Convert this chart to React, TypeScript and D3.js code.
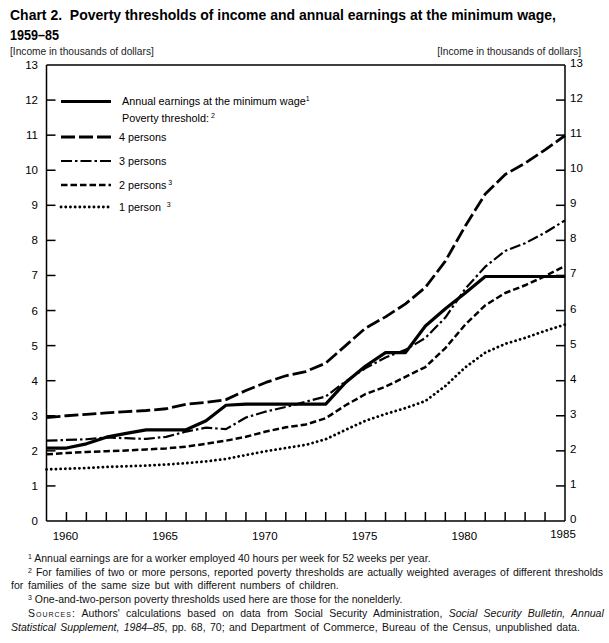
import React from "react";
import * as d3 from "d3";

const years = [1959, 1960, 1961, 1962, 1963, 1964, 1965, 1966, 1967, 1968, 1969, 1970, 1971, 1972, 1973, 1974, 1975, 1976, 1977, 1978, 1979, 1980, 1981, 1982, 1983, 1984, 1985];
const minWage = [2.08, 2.08, 2.2, 2.39, 2.5, 2.6, 2.6, 2.6, 2.86, 3.3, 3.33, 3.33, 3.33, 3.33, 3.33, 3.95, 4.42, 4.8, 4.8, 5.56, 6.05, 6.5, 6.97, 6.97, 6.97, 6.97, 6.97];
const pov4 = [2.95, 3.0, 3.04, 3.08, 3.12, 3.15, 3.2, 3.33, 3.38, 3.46, 3.72, 3.95, 4.14, 4.26, 4.5, 5.0, 5.5, 5.82, 6.19, 6.66, 7.41, 8.41, 9.32, 9.88, 10.2, 10.58, 10.99];
const pov3 = [2.29, 2.31, 2.33, 2.38, 2.36, 2.34, 2.4, 2.55, 2.66, 2.62, 2.95, 3.12, 3.25, 3.4, 3.55, 3.98, 4.36, 4.66, 4.88, 5.22, 5.8, 6.62, 7.25, 7.7, 7.92, 8.22, 8.57];
const pov2 = [1.9, 1.94, 1.97, 1.99, 2.01, 2.04, 2.07, 2.12, 2.2, 2.29, 2.4, 2.55, 2.67, 2.75, 2.93, 3.3, 3.62, 3.83, 4.11, 4.39, 4.93, 5.6, 6.15, 6.5, 6.72, 6.98, 7.27];
const pov1 = [1.47, 1.49, 1.51, 1.54, 1.56, 1.58, 1.61, 1.65, 1.7, 1.77, 1.88, 1.99, 2.08, 2.17, 2.33, 2.6, 2.86, 3.05, 3.22, 3.42, 3.85, 4.38, 4.8, 5.05, 5.22, 5.42, 5.6];
const yTicks = [0, 1, 2, 3, 4, 5, 6, 7, 8, 9, 10, 11, 12, 13];
const xLabels = [1960, 1965, 1970, 1975, 1980, 1985];
const seriesNames = ["Annual earnings at the minimum wage", "4 persons", "3 persons", "2 persons", "1 person"];

const FONT = "'Liberation Sans', Arial, Helvetica, sans-serif";

export default function App() {
  const x = d3.scaleLinear().domain([1959, 1985]).range([46.5, 565]);
  const y = d3.scaleLinear().domain([0, 13]).range([521, 65]);
  const line = d3
    .line<number>()
    .x((_, i) => x(years[i]))
    .y((d) => y(d));

  const styles = [
    { data: minWage, w: 3.2, dash: "none", cap: "butt" },
    { data: pov4, w: 2.8, dash: "14 4", cap: "butt" },
    { data: pov3, w: 2.2, dash: "11 3 2.5 3", cap: "butt" },
    { data: pov2, w: 2.5, dash: "6.5 3", cap: "butt" },
    { data: pov1, w: 2.8, dash: "0.1 4.6", cap: "round" },
  ];
  const drawOrder = [4, 3, 2, 1, 0];

  const legendRows = [
    { idx: 0, y: 101.5 },
    { idx: 1, y: 137 },
    { idx: 2, y: 161 },
    { idx: 3, y: 185 },
    { idx: 4, y: 207 },
  ];
  const legendSup: Record<number, string> = { 0: "1", 3: "3", 4: "3" };

  const innerYTicks = yTicks.filter((t) => t > 0 && t < 13);
  const xTickYears = years.filter((yr) => yr > 1959 && yr < 1985);

  return (
    <svg
      width={609}
      height={643}
      style={{ position: "absolute", left: 0, top: 0, background: "#fff" }}
      fontFamily={FONT}
    >
      <rect x={0} y={0} width={609} height={643} fill="#fff" />
      {/* Title */}
      <text x={10} y={20} fontSize={15} fontWeight="bold" textLength={546} lengthAdjust="spacingAndGlyphs" style={{ whiteSpace: "pre" }}>
        {"Chart 2.  Poverty thresholds of income and annual earnings at the minimum wage,"}
      </text>
      <text x={10} y={40} fontSize={15} fontWeight="bold" textLength={49} lengthAdjust="spacingAndGlyphs">
        1959–85
      </text>
      {/* Axis titles */}
      <text x={10} y={55} fontSize={10.2} fill="#222">[Income in thousands of dollars]</text>
      <text x={581} y={55} fontSize={10.2} fill="#222" textAnchor="end">[Income in thousands of dollars]</text>

      {/* Frame */}
      <g stroke="#000" strokeWidth={1.5} fill="none">
        <line x1={x(1959)} x2={x(1985)} y1={y(13)} y2={y(13)} />
        <line x1={x(1959)} x2={x(1985)} y1={y(0)} y2={y(0)} />
        <line x1={x(1959)} x2={x(1959)} y1={y(13)} y2={y(0)} />
        <line x1={x(1985)} x2={x(1985)} y1={y(13)} y2={y(0)} />
        {innerYTicks.map((t) => (
          <g key={"yt" + t}>
            <line x1={x(1959)} x2={x(1959) + 9} y1={y(t)} y2={y(t)} />
            <line x1={x(1985) - 9} x2={x(1985)} y1={y(t)} y2={y(t)} />
          </g>
        ))}
        {xTickYears.map((yr) => (
          <line key={"xt" + yr} x1={x(yr)} x2={x(yr)} y1={y(0)} y2={y(0) - 9} />
        ))}
      </g>
      {/* Y labels */}
      {yTicks.map((t) => (
        <g key={"yl" + t} fontSize={11.5}>
          <text x={38} y={y(t) + 4} textAnchor="end">{t}</text>
          <text x={570} y={y(t) + 2} textAnchor="start">{t}</text>
        </g>
      ))}
      {/* X labels */}
      {xLabels.map((yr) => (
        <text key={"xl" + yr} x={yr === 1985 ? x(yr) - 2 : x(yr) - 1} y={yr === 1985 ? 538 : 540} fontSize={11.5} textAnchor="middle">
          {yr}
        </text>
      ))}

      {/* Lines */}
      {drawOrder.map((i) => {
        const s = styles[i];
        return (
          <path
            key={"s" + i}
            d={line(s.data) || ""}
            fill="none"
            stroke="#000"
            strokeWidth={s.w}
            strokeDasharray={s.dash}
            strokeLinecap={s.cap as any}
            strokeLinejoin="round"
          />
        );
      })}

      {/* Legend */}
      {legendRows.map((r) => {
        const s = styles[r.idx];
        return (
          <g key={"lg" + r.idx}>
            <line
              x1={61}
              x2={111}
              y1={r.y}
              y2={r.y}
              stroke="#000"
              strokeWidth={s.w}
              strokeDasharray={s.dash}
              strokeLinecap={s.cap as any}
            />
            <text x={r.idx === 0 ? 122 : 119} y={r.y + 3.5} fontSize={10.8} style={{ whiteSpace: "pre" }}>
              {seriesNames[r.idx]}
              {legendSup[r.idx] ? (
                <tspan fontSize={7} dy={-4}>{(r.idx === 0 ? "" : r.idx === 4 ? "   " : " ") + legendSup[r.idx]}</tspan>
              ) : null}
            </text>
          </g>
        );
      })}
      <text x={122} y={121.5} fontSize={10.8} style={{ whiteSpace: "pre" }}>
        {"Poverty threshold:"}
        <tspan fontSize={7} dy={-4}>{" 2"}</tspan>
      </text>

      {/* Footnotes */}
      <g fontSize={10.5} fill="#111" style={{ whiteSpace: "pre" }}>
        <text x={28} y={562}>
          <tspan fontSize={7} dy={-3}>1</tspan>
          <tspan dy={3}>{"  Annual earnings are for a worker employed 40 hours per week for 52 weeks per year."}</tspan>
        </text>
        <text x={28} y={576} wordSpacing={1.1}>
          <tspan fontSize={7} dy={-3}>2</tspan>
          <tspan dy={3}>{"  For families of two or more persons, reported poverty thresholds are actually weighted averages of different thresholds"}</tspan>
        </text>
        <text x={11} y={589} wordSpacing={1.8}>for families of the same size but with different numbers of children.</text>
        <text x={28} y={603}>
          <tspan fontSize={7} dy={-3}>3</tspan>
          <tspan dy={3}>{"  One-and-two-person poverty thresholds used here are those for the nonelderly."}</tspan>
        </text>
        <text x={28} y={617}>
          <tspan style={{ fontVariant: "small-caps", letterSpacing: "1px" }}>{"Sources:"}</tspan>
          <tspan wordSpacing={3.4}>{"   Authors' calculations based on data from Social Security Administration, "}</tspan>
          <tspan fontStyle="italic" wordSpacing={3.4}>{"Social Security Bulletin, Annual"}</tspan>
        </text>
        <text x={11} y={631} wordSpacing={1.5}>
          <tspan fontStyle="italic">{"Statistical Supplement, 1984–85"}</tspan>
          <tspan>{", pp. 68, 70; and Department of Commerce, Bureau of the Census, unpublished data."}</tspan>
        </text>
      </g>
    </svg>
  );
}
